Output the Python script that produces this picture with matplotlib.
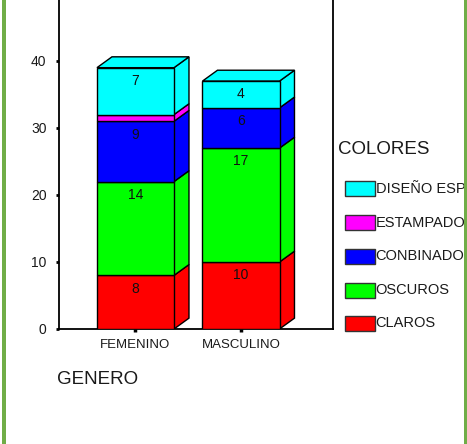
import matplotlib
matplotlib.use("Agg")
import matplotlib.pyplot as plt
from matplotlib.patches import Polygon, Rectangle

plt.rcParams['font.family'] = ['Liberation Sans', 'DejaVu Sans']

# Data
generos = ["FEMENINO", "MASCULINO"]
colores = ["CLAROS", "OSCUROS", "CONBINADO", "ESTAMPADO", "DISEÑO ESP"]
claros = [8, 10]
oscuros = [14, 17]
conbinado = [9, 6]
estampado = [1, 0]
diseno_esp = [7, 4]
series = [claros, oscuros, conbinado, estampado, diseno_esp]
series_colors = ["#FF0000", "#00FF00", "#0000FF", "#FF00FF", "#00FFFF"]
yticks = [0, 10, 20, 30, 40]

W, H = 467, 444
fig = plt.figure(figsize=(W / 100, H / 100), dpi=100)
fig.patch.set_facecolor("white")

# axes box in pixels: x 59..333, y 0..329 (from top)
ax = fig.add_axes([59 / W, (H - 329) / H, (333 - 59) / W, 329 / H])
ax.set_xlim(-0.725, 1.872)
ax.set_ylim(0, 49.1)

bar_w = 0.73
dx = 0.142      # depth offset (x, data units)
dy = 1.62       # depth offset (y, data units)

for i, g in enumerate(generos):
    xl = i - bar_w / 2
    xr = i + bar_w / 2
    bottom = 0
    top_color = None
    for vals, col in zip(series, series_colors):
        v = vals[i]
        if v <= 0:
            continue
        y0, y1 = bottom, bottom + v
        ax.add_patch(Rectangle((xl, y0), bar_w, v, facecolor=col,
                               edgecolor="black", lw=1.0, zorder=3))
        ax.add_patch(Polygon([(xr, y0), (xr + dx, y0 + dy), (xr + dx, y1 + dy), (xr, y1)],
                             closed=True, facecolor=col, edgecolor="black", lw=1.0, zorder=2))
        if v >= 2:
            ax.annotate(str(v), (i, y1), xytext=(0, -9.6), textcoords="offset points",
                        ha="center", va="center", fontsize=10, color="#111111", zorder=5)
        bottom = y1
        top_color = col
    ax.add_patch(Polygon([(xl, bottom), (xl + dx, bottom + dy), (xr + dx, bottom + dy), (xr, bottom)],
                         closed=True, facecolor=top_color, edgecolor="black", lw=1.0, zorder=2))

ax.spines["top"].set_visible(False)
for s in ("left", "right", "bottom"):
    ax.spines[s].set_linewidth(1.3)
    ax.spines[s].set_color("black")

ax.set_yticks(yticks)
ax.set_yticklabels([str(t) for t in yticks], fontsize=10, color="#1a1a1a")
ax.set_xticks(range(len(generos)))
ax.set_xticklabels(generos, fontsize=9.5, color="#1a1a1a")
ax.tick_params(axis="y", direction="out", length=2, width=2, pad=7)
ax.tick_params(axis="x", direction="out", length=2, width=2.5, pad=5)

# Axis title below
fig.text(57 / W, 1 - 379 / H, "GENERO", fontsize=13.5, ha="left", va="center", color="#1a1a1a")

# Legend
fig.text(338 / W, 1 - 150 / H, "COLORES", fontsize=13.5, ha="left", va="center", color="#1a1a1a")
leg_y = [189, 223, 256, 290, 323]
for name, col, yc in zip(colores[::-1], series_colors[::-1], leg_y):
    fig.patches.append(Rectangle((345 / W, 1 - (yc + 7.5) / H), 30 / W, 15 / H,
                                 transform=fig.transFigure, facecolor=col,
                                 edgecolor="#333333", lw=1.0))
    fig.text(375.5 / W, 1 - yc / H, name, fontsize=10.5, ha="left", va="center", color="#1a1a1a")

# Green frame on left and right edges
for x0, w in ((2, 4), (463.5, 4)):
    fig.patches.append(Rectangle((x0 / W, 0), w / W, 1, transform=fig.transFigure,
                                 facecolor="#70AD47", edgecolor="none", zorder=10))

fig.savefig("out.png", dpi=100)
